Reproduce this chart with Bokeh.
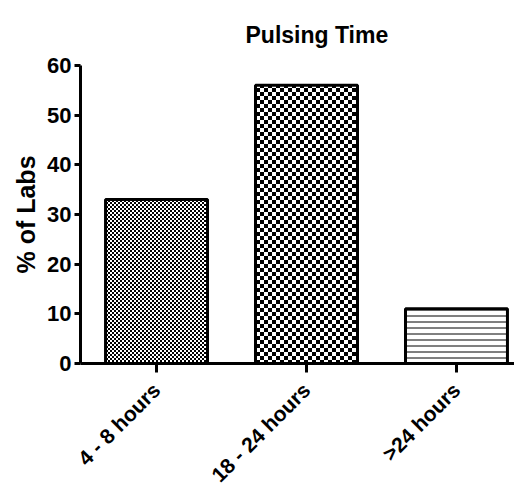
import math, zlib, struct, base64
from bokeh.plotting import figure
from bokeh.models import Range1d, FixedTicker, ColumnDataSource, ImageURLTexture
from bokeh.core.properties import value
from bokeh.embed import file_html
from bokeh.resources import INLINE

categories = ["4 - 8 hours", "18 - 24 hours", ">24 hours"]
percent_labs = [33, 56, 11]
y_ticks = [0, 10, 20, 30, 40, 50, 60]

FONT = "Liberation Sans"


def checker_png(cell):
    size = cell * 2
    raw = b""
    for yy in range(size):
        row = b"\x00"
        for xx in range(size):
            black = ((xx // cell) + (yy // cell)) % 2 == 0
            row += b"\x00\x00\x00" if black else b"\xff\xff\xff"
        raw += row

    def chunk(t, d):
        c = struct.pack(">I", len(d)) + t + d
        return c + struct.pack(">I", zlib.crc32(t + d) & 0xffffffff)

    png = b"\x89PNG\r\n\x1a\n"
    png += chunk(b"IHDR", struct.pack(">IIBBBBB", size, size, 8, 2, 0, 0, 0))
    png += chunk(b"IDAT", zlib.compress(raw))
    png += chunk(b"IEND", b"")
    return "data:image/png;base64," + base64.b64encode(png).decode()


p = figure(width=514, height=497, output_backend="svg", toolbar_location=None,
           x_range=Range1d(-0.507, 2.387), y_range=Range1d(0, 60),
           min_border_left=80, min_border_right=0, min_border_top=65, min_border_bottom=132)
p.outline_line_color = None
p.grid.visible = False
p.background_fill_color = "white"
p.border_fill_color = "white"

chk_small = ImageURLTexture(url=checker_png(2))
chk_large = ImageURLTexture(url=checker_png(4))

styles = [
    dict(hatch_pattern=value("cs"), hatch_extra={"cs": chk_small}),
    dict(hatch_pattern=value("cl"), hatch_extra={"cl": chk_large}),
    dict(hatch_pattern=value("horizontal_line"), hatch_scale=6, hatch_weight=1),
]

for i, (cat, val) in enumerate(zip(categories, percent_labs)):
    src = ColumnDataSource(dict(x=[i], top=[val]))
    p.vbar(x="x", top="top", bottom=0, width=0.68, source=src,
           fill_color="white", line_color="black", line_width=3,
           hatch_color="black", **styles[i])

# x axis
xa = p.xaxis[0]
xa.ticker = FixedTicker(ticks=list(range(len(categories))))
xa.major_label_overrides = {i: c for i, c in enumerate(categories)}
xa.major_label_orientation = math.pi / 4
xa.axis_line_width = 3
xa.major_tick_line_width = 3
xa.major_tick_out = 9
xa.major_tick_in = 0
xa.minor_tick_line_color = None
xa.major_label_text_font = FONT
xa.major_label_text_font_style = "bold"
xa.major_label_text_font_size = "21px"
xa.major_label_text_color = "black"
xa.major_label_standoff = 14

# y axis
ya = p.yaxis[0]
ya.ticker = FixedTicker(ticks=y_ticks)
ya.axis_line_width = 3
ya.major_tick_line_width = 3
ya.major_tick_out = 6
ya.major_tick_in = 0
ya.minor_tick_line_color = None
ya.major_label_text_font = FONT
ya.major_label_text_font_style = "bold"
ya.major_label_text_font_size = "22px"
ya.major_label_text_color = "black"
ya.major_label_standoff = 3
ya.axis_label = "% of Labs"
ya.axis_label_text_font = FONT
ya.axis_label_text_font_style = "bold"
ya.axis_label_text_font_size = "25px"
ya.axis_label_text_color = "black"
ya.axis_label_standoff = 4

p.title.text = "Pulsing Time"
p.title.text_font = FONT
p.title.text_font_style = "bold"
p.title.text_font_size = "23px"
p.title.text_color = "black"
p.title.align = "left"
p.title.offset = 165
p.title.standoff = 36

open("out.html", "w").write(file_html(p, INLINE))
